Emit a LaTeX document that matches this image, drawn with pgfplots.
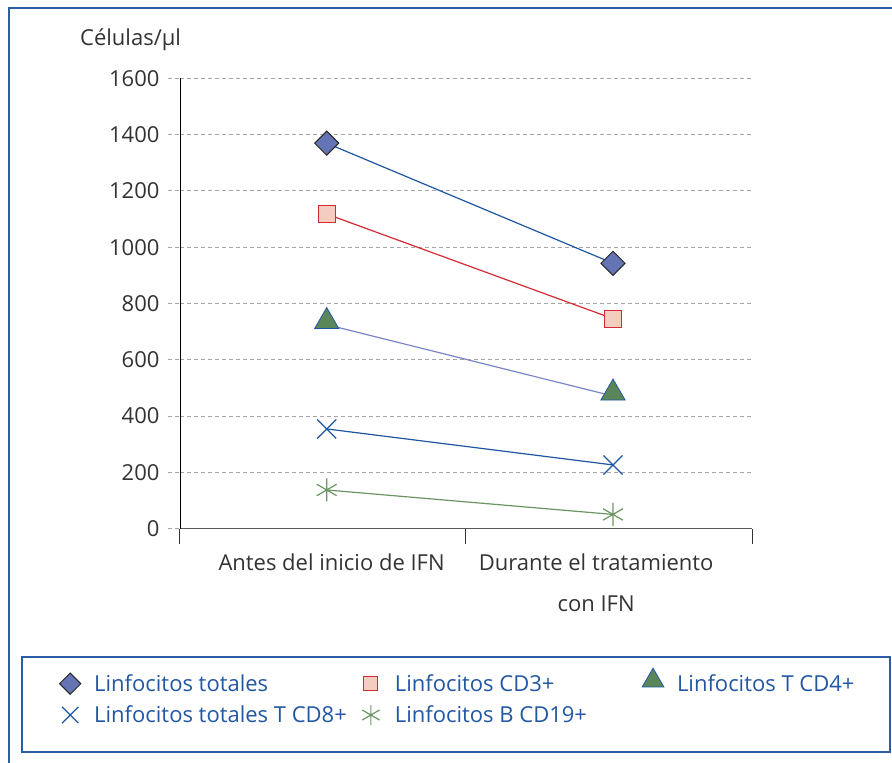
\documentclass[border=0pt]{standalone}
\usepackage{pgfplots}
\pgfplotsset{compat=1.18}
\usepackage{fontspec}
\setmainfont{Open Sans}
\definecolor{frameblue}{HTML}{2D5DA6}
\definecolor{txtblue}{HTML}{2257A3}
\definecolor{ser1}{HTML}{1F56A0}
\definecolor{dia}{HTML}{6474B4}
\definecolor{sqf}{HTML}{F3CDBF}
\definecolor{red1}{HTML}{D42A34}
\definecolor{cd4line}{HTML}{7B86C6}
\definecolor{trif}{HTML}{5B865A}
\definecolor{grn}{HTML}{6A9563}
\definecolor{gridg}{HTML}{A6A6A6}
\definecolor{txt}{HTML}{333333}
\begin{document}
\begin{tikzpicture}[font=\fontsize{22}{26}\selectfont]
\useasboundingbox (-180pt,-234.5pt) rectangle (712pt,528.5pt);
\draw[frameblue, line width=1.6pt] (-171pt,-240pt) -- (-171pt,520.5pt) -- (720pt,520.5pt);
\draw[frameblue, line width=1.2pt] (-158pt,-128.5pt) rectangle (710pt,-223.5pt);
\node[anchor=west, text=txt, inner sep=0pt] at (-100pt,488.5pt) {Células/µl};
\begin{axis}[
  at={(0pt,0pt)}, anchor=south west,
  scale only axis, width=572pt, height=450pt,
  xmin=0, xmax=2, ymin=0, ymax=1600,
  axis x line*=bottom, axis y line*=left,
  x axis line style={-, draw=black!65, line width=1.4pt},
  y axis line style={-, draw=black, line width=0.9pt},
  ytick={0,200,...,1600},
  ymajorgrids,
  major grid style={gridg, line width=1pt, dash pattern=on 4pt off 3pt},
  ytick style={gridg, line width=1pt, dash pattern=on 4pt off 3pt},
  ytick align=outside, major tick length=12pt,
  /pgf/number format/assume math mode=true,
  /pgf/number format/1000 sep={},
  yticklabel style={text=txt, xshift=-5pt},
  xtick={0.53,1.455},
  xticklabels={Antes del inicio de IFN,{Durante el tratamiento\\[15pt]con IFN}},
  xticklabel style={text=txt, align=center, yshift=-22pt},
  xtick style={draw=none},
  extra x ticks={0,1,2},
  extra x tick labels={},
  extra x tick style={xtick align=outside, major tick length=15pt, xtick style={draw=black!80, line width=1pt}, xmajorgrids=false},
  legend columns=3,
  legend cell align=left,
  legend style={draw=none, fill=none, at={(-0.2255,-0.3055)}, anchor=north west,
    text=txtblue, font=\fontsize{22}{26}\selectfont, row sep=9pt,
    /tikz/column 2/.style={column sep=6pt},
    /tikz/column 4/.style={column sep=48pt}},
  legend image code/.code={\path[draw=none, fill=none] (-6pt,0pt) -- (32pt,0pt); \draw[#1] plot coordinates {(10pt,0pt)};},
]
\addplot[forget plot, ser1, line width=1.2pt, mark=square*, mark size=8.5pt,
  mark options={rotate=45, fill=dia, draw=black!85, line width=1pt}]
  coordinates {(0.513,1370) (1.514,943)};
\addplot[forget plot, red1, line width=1.2pt, mark=square*, mark size=8.5pt,
  mark options={fill=sqf, draw=red1, line width=1pt}]
  coordinates {(0.513,1118) (1.514,746)};
\addplot[forget plot, cd4line, line width=1.2pt, mark=triangle*, mark size=14pt,
  mark options={fill=trif, draw=ser1, line width=0.8pt, yshift=3pt}]
  coordinates {(0.513,725) (1.514,471)};
\addplot[forget plot, ser1, line width=1.2pt, mark=x, mark size=13.5pt,
  mark options={draw=ser1, line width=1.2pt}]
  coordinates {(0.513,354) (1.514,226)};
\addplot[forget plot, grn, line width=1.2pt, mark=asterisk, mark size=11.5pt,
  mark options={draw=grn, line width=1.2pt}]
  coordinates {(0.513,137) (1.514,50)};
\addlegendimage{ser1, mark=square*, mark size=7.5pt, mark options={rotate=45, fill=dia, draw=black!85, line width=1pt}}
\addlegendentry{Linfocitos totales}
\addlegendimage{red1, mark=square*, mark size=7pt, mark options={fill=sqf, draw=red1, line width=1pt}}
\addlegendentry{Linfocitos CD3+}
\addlegendimage{cd4line, mark=triangle*, mark size=12.5pt, mark options={fill=trif, draw=ser1, line width=0.8pt, yshift=3pt}}
\addlegendentry{Linfocitos T CD4+}
\addlegendimage{ser1, mark=x, mark size=11.5pt, mark options={draw=ser1, line width=1.2pt}}
\addlegendentry{Linfocitos totales T CD8+}
\addlegendimage{grn, mark=asterisk, mark size=10pt, mark options={draw=grn, line width=1.2pt}}
\addlegendentry{Linfocitos B CD19+}
\end{axis}
\end{tikzpicture}
\end{document}
